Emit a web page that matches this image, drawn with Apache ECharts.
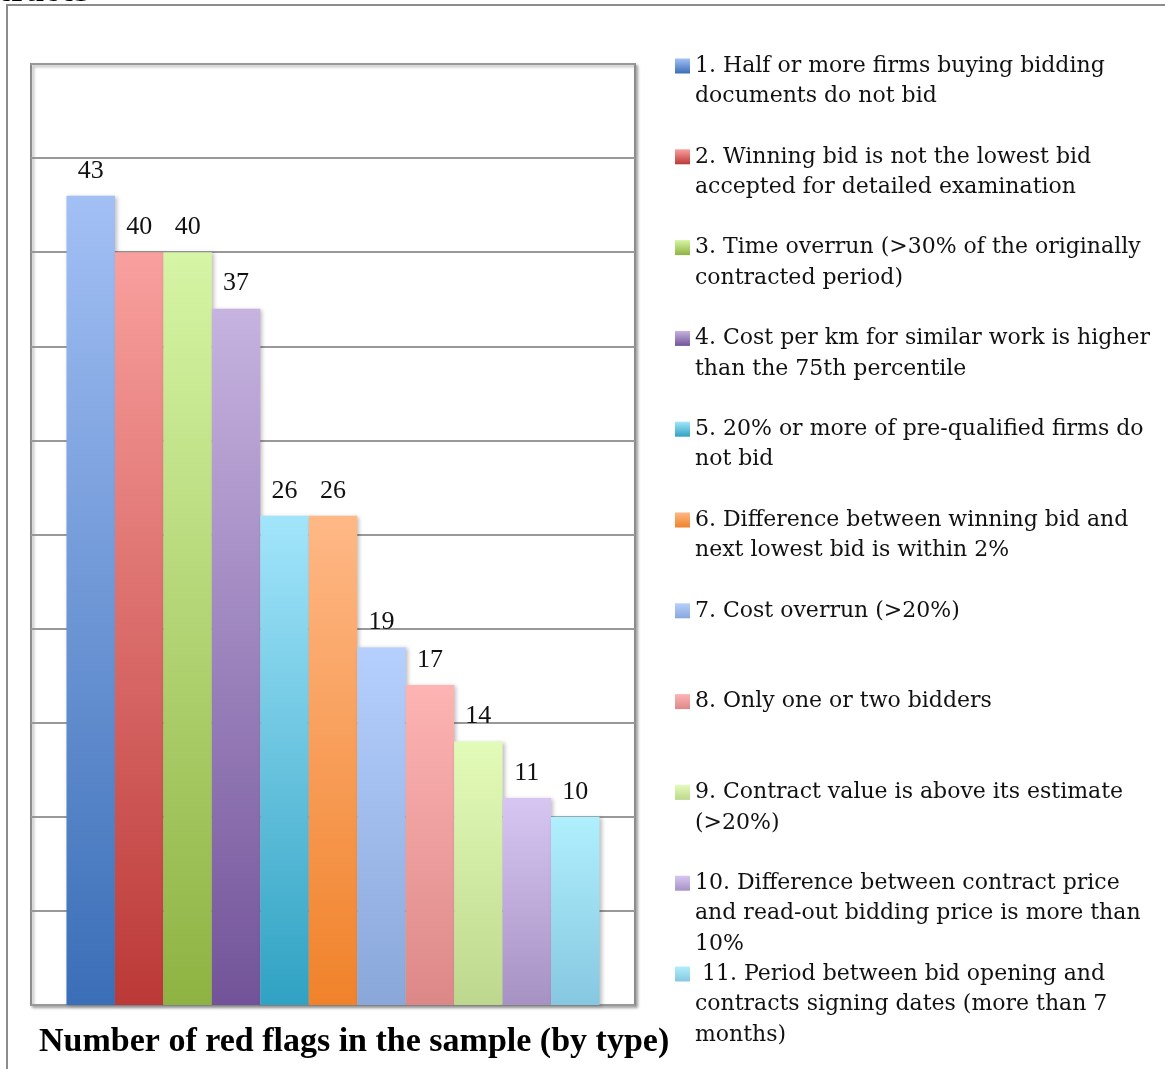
<!DOCTYPE html>
<html>
<head>
<meta charset="utf-8">
<title>Number of red flags in the sample (by type)</title>
<script src="https://cdn.jsdelivr.net/npm/echarts@6/dist/echarts.min.js"></script>
<style>
  html, body { margin: 0; padding: 0; background: #fff; }
  #chart { width: 1165px; height: 1069px; }
</style>
</head>
<body>
<div id="chart"></div>
<script>
// Red flag types (legend text, line breaks as laid out)
const flagTypes = [
  '1. Half or more firms buying bidding\ndocuments do not bid',
  '2. Winning bid is not the lowest bid\naccepted for detailed examination',
  '3. Time overrun (>30% of the originally\ncontracted period)',
  '4. Cost per km for similar work is higher\nthan the 75th percentile',
  '5. 20% or more of pre-qualified firms do\nnot bid',
  '6. Difference between winning bid and\nnext lowest bid is within 2%',
  '7. Cost overrun (>20%)',
  '8. Only one or two bidders',
  '9. Contract value is above its estimate\n(>20%)',
  '10. Difference between contract price\nand read-out bidding price is more than\n10%',
  ' 11. Period between bid opening and\ncontracts signing dates (more than 7\nmonths)'
];

// Number of red flags found for each type
const flagCounts = [43, 40, 40, 37, 26, 26, 19, 17, 14, 11, 10];

// Gradient colours per bar: [top, bottom]
const barTop = ['#a3c0f5', '#f9a09e', '#d6f5a5', '#c6b3e0', '#a2e5fb', '#ffb886',
                '#b5d0fe', '#fdb4b3', '#e3fbb8', '#d7c6f2', '#b0effd'];
const barBottom = ['#3a6eb7', '#bb3937', '#8eb342', '#725399', '#30a2c3', '#f0822a',
                   '#8aa7da', '#dd8888', '#bdd88e', '#a692c3', '#86c8e1'];

const chartTitle = 'Number of red flags in the sample (by type)';

const chart = echarts.init(document.getElementById('chart'), null, { renderer: 'canvas' });

const textFont = 'DejaVu Serif';
const legendLine = 30.5;
const legendFirst = 66;
const legendStep = 90.8;

function gradient(i) {
  return new echarts.graphic.LinearGradient(0, 0, 0, 1, [
    { offset: 0, color: barTop[i] },
    { offset: 1, color: barBottom[i] }
  ]);
}

const series = flagTypes.map((name, i) => ({
  type: 'bar',
  name: name,
  data: [flagCounts[i]],
  barGap: '0%',
  barCategoryGap: '11.75%',
  itemStyle: {
    color: gradient(i),
    shadowColor: 'rgba(0,0,0,0.25)',
    shadowBlur: 4,
    shadowOffsetX: 2,
    shadowOffsetY: 1
  },
  label: {
    show: true,
    position: 'top',
    distance: 12,
    color: '#111',
    fontFamily: 'Liberation Serif',
    fontSize: 26
  },
  emphasis: { disabled: true },
  animation: false
}));

// One legend block per flag type. Blank lines are prepended so that the
// first text line lands level with the marker.
const legends = flagTypes.map((name, i) => {
  const lines = name.split('\n').length;
  const centre = legendFirst + legendStep * i;
  return {
    orient: 'vertical',
    left: 675,
    top: centre - (2 * lines - 1) * legendLine / 2,
    padding: 0,
    itemWidth: 15,
    itemHeight: 15,
    selectedMode: false,
    icon: 'rect',
    data: [name],
    formatter: (n) => '\n'.repeat(lines - 1) + n,
    textStyle: {
      fontFamily: textFont,
      fontSize: 22,
      lineHeight: legendLine,
      color: '#111'
    }
  };
});

chart.setOption({
  backgroundColor: '#fff',
  animation: false,
  title: {
    text: chartTitle,
    left: 39,
    top: 1025,
    padding: 0,
    textStyle: {
      fontFamily: 'Liberation Serif',
      fontWeight: 'bold',
      fontSize: 34,
      color: '#000'
    }
  },
  legend: legends,
  grid: {
    left: 31,
    right: 530,
    top: 64,
    bottom: 64,
    show: true,
    backgroundColor: '#fff',
    borderColor: '#8c8c8c',
    borderWidth: 2,
    shadowColor: 'rgba(0,0,0,0.3)',
    shadowBlur: 3,
    shadowOffsetX: 2,
    shadowOffsetY: 2
  },
  xAxis: {
    type: 'category',
    data: [''],
    axisLine: { show: false },
    axisTick: { show: false },
    axisLabel: { show: false }
  },
  yAxis: {
    type: 'value',
    min: 0,
    max: 50,
    interval: 5,
    axisLine: { show: false },
    axisTick: { show: false },
    axisLabel: { show: false },
    splitLine: { lineStyle: { color: '#999', width: 2 } }
  },
  graphic: [
    {
      type: 'rect',
      shape: { x: 7, y: 5, width: 1400, height: 1400 },
      style: { fill: 'none', stroke: '#8c8c8c', lineWidth: 2 },
      silent: true,
      z: -1
    },
    {
      type: 'text',
      x: 90,
      y: -6,
      style: {
        text: 'contracts',
        align: 'right',
        verticalAlign: 'middle',
        fontFamily: textFont,
        fontWeight: 'bold',
        fontSize: 28,
        fill: '#000'
      },
      silent: true
    }
  ],
  series: series
});
</script>
</body>
</html>
